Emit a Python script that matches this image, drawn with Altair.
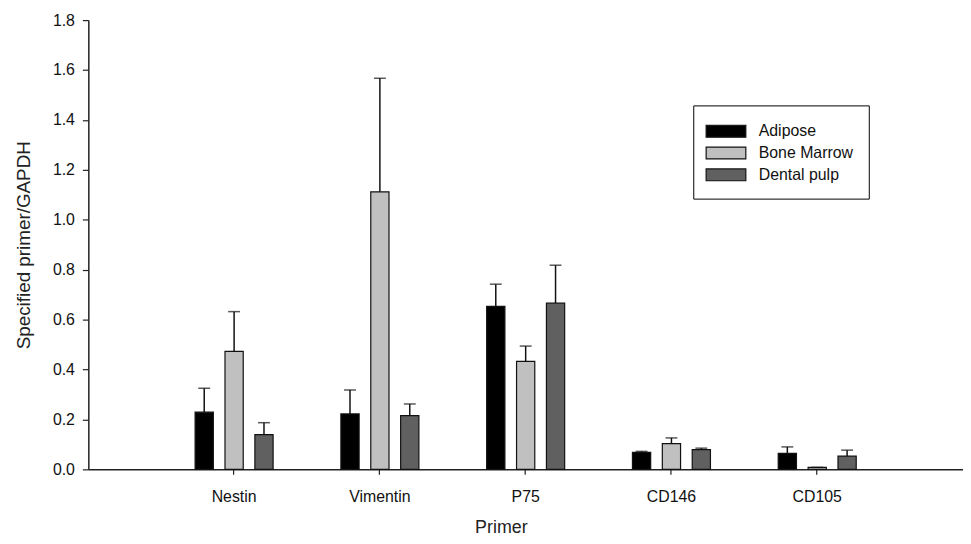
import altair as alt
import pandas as pd

primers = ["Nestin", "Vimentin", "P75", "CD146", "CD105"]
sources = ["Adipose", "Bone Marrow", "Dental pulp"]
adipose = [0.229, 0.222, 0.653, 0.068, 0.064]
adipose_err = [0.096, 0.096, 0.089, 0.004, 0.026]
bone = [0.473, 1.112, 0.433, 0.103, 0.008]
bone_err = [0.159, 0.455, 0.061, 0.023, 0.0]
dental = [0.139, 0.215, 0.666, 0.079, 0.053]
dental_err = [0.048, 0.047, 0.152, 0.006, 0.024]
colors = ["#000000", "#c0c0c0", "#606060"]

rows = []
for src, vals, errs in zip(sources, [adipose, bone, dental], [adipose_err, bone_err, dental_err]):
    for p, v, e in zip(primers, vals, errs):
        rows.append({"Primer": p, "Source": src, "value": v, "upper": v + e})
df = pd.DataFrame(rows)

FONT = "Liberation Sans"

x = alt.X("Primer:N", sort=primers,
          scale=alt.Scale(paddingInner=0.26, paddingOuter=0.63),
          axis=alt.Axis(title="Primer", labelAngle=0, labelFontSize=16, titleFontSize=18,
                        titleFontWeight="normal", tickSize=5, labelPadding=14,
                        titlePadding=15, titleX=416, domainColor="#222", domainWidth=1.5,
                        tickColor="#222", tickWidth=1.2, labelColor="#111", titleColor="#222",
                        labelFont=FONT, titleFont=FONT))
xo = alt.XOffset("Source:N", sort=sources,
                 scale=alt.Scale(paddingInner=0.39, paddingOuter=0.5))

base = alt.Chart(df)

bars = base.mark_bar(stroke="#111", strokeWidth=1.2).encode(
    x=x,
    xOffset=xo,
    y=alt.Y("value:Q",
            scale=alt.Scale(domain=[0, 1.8], nice=False),
            axis=alt.Axis(title="Specified primer/GAPDH", values=[0, 0.2, 0.4, 0.6, 0.8, 1.0, 1.2, 1.4, 1.6, 1.8],
                          format=".1f", grid=False, labelFontSize=16, titleFontSize=19,
                          titleFontWeight="normal", tickSize=6, labelPadding=8, titlePadding=19,
                          domainColor="#222", domainWidth=1.5, tickColor="#222", tickWidth=1.2,
                          labelColor="#111", titleColor="#222", labelFont=FONT, titleFont=FONT)),
    color=alt.Color("Source:N", sort=sources,
                    scale=alt.Scale(domain=sources, range=colors),
                    legend=alt.Legend(title=None, orient="none", legendX=610, legendY=86,
                                      symbolType="M-1.3,-0.6H2.7V0.6H-1.3Z", symbolSize=400,
                                      symbolStrokeColor="#111", symbolStrokeWidth=1.2,
                                      labelFont=FONT, labelFontSize=16, labelColor="#111",
                                      labelOffset=29, padding=15, rowPadding=2,
                                      strokeColor="#000", fillColor="white")),
)

rules = base.mark_rule(color="#111", strokeWidth=1.5).encode(
    x=x, xOffset=xo, y="value:Q", y2="upper:Q")

caps = base.mark_tick(color="#111", thickness=1.5, size=12, orient="horizontal").encode(
    x=x, xOffset=xo, y="upper:Q")

chart = alt.layer(bars, rules, caps).properties(
    width=882, height=453, padding={"left": 6, "top": 2, "right": 0, "bottom": 0}
).configure_view(stroke=None)

chart.save("out.html", embed_options={"renderer": "svg", "actions": False})
